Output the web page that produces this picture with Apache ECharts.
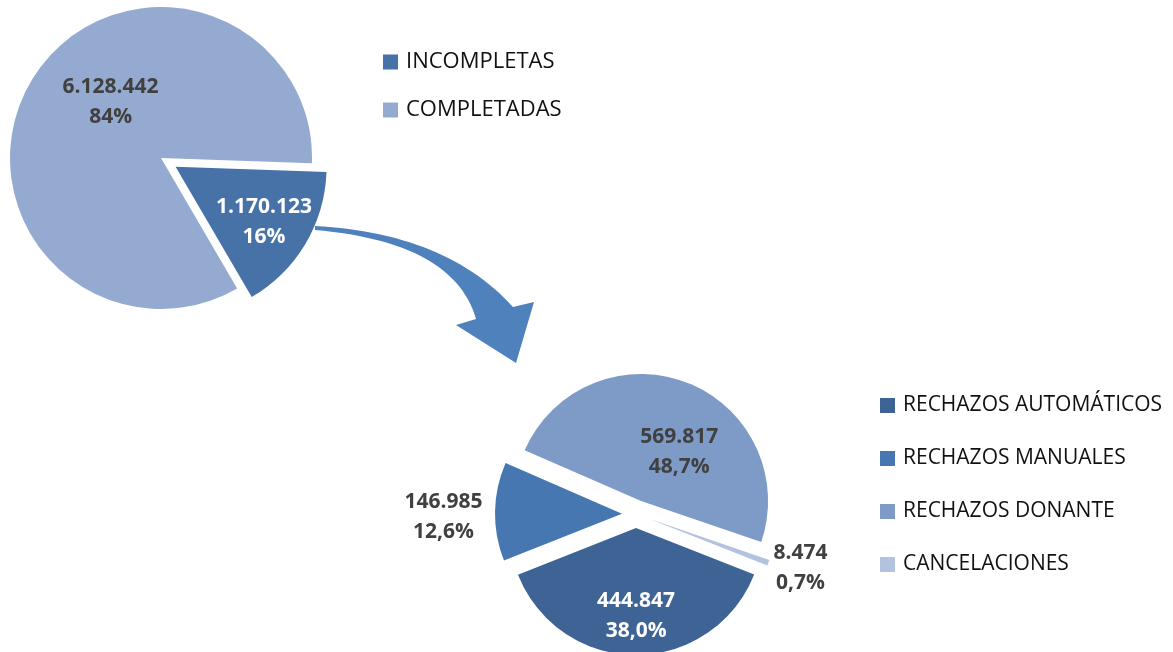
<!DOCTYPE html>
<html>
<head>
<meta charset="utf-8">
<script src="https://cdn.jsdelivr.net/npm/echarts@6/dist/echarts.min.js"></script>
<style>
  html, body { margin: 0; padding: 0; background: #fff; }
  #chart { width: 1173px; height: 652px; }
</style>
</head>
<body>
<div id="chart"></div>
<script>
// datos
const topNames = ['INCOMPLETAS', 'COMPLETADAS'];
const topValues = [1170123, 6128442];
const topColors = ['#4672A8', '#95AAD0'];

const bottomNames = ['RECHAZOS AUTOMÁTICOS', 'RECHAZOS MANUALES', 'RECHAZOS DONANTE', 'CANCELACIONES'];
const bottomValues = [444847, 146985, 569817, 8474];
const bottomColors = ['#3D6495', '#4677B1', '#7E9BC8', '#B3C2DF'];

// ajustes de etiquetas (desplazamiento desde la posicion "inside")
const topLabelShift = [[21, 15], [17, -16]];
const topLabelColor = ['#fff', '#404040'];
const bottomLabelShift = [[0, 22], [-112, 4], [14, 13], [89, 26]];
const bottomLabelColor = ['#fff', '#404040', '#404040', '#404040'];

function miles(v) {
    return String(v).replace(/\B(?=(\d{3})+(?!\d))/g, '.');
}

// curva cuadratica -> puntos
function quad(p0, c, p2, n) {
    let pts = [];
    for (let i = 0; i <= n; i++) {
        let t = i / n, a = (1 - t) * (1 - t), b = 2 * (1 - t) * t, d = t * t;
        pts.push([a * p0[0] + b * c[0] + d * p2[0], a * p0[1] + b * c[1] + d * p2[1]]);
    }
    return pts;
}

// flecha curva entre las dos tartas
let arrowPts = quad([315, 226], [446, 233], [513, 307], 30)
    .concat([[534, 302], [516, 363], [456, 325]])
    .concat(quad([476, 319], [454, 242], [315, 230], 30));

let labelFont = {
    fontFamily: 'Open Sans',
    fontSize: 21,
    fontWeight: 'bold',
    lineHeight: 30
};

let myChart = echarts.init(document.getElementById('chart'), null, { renderer: 'canvas' });

let option = {
    animation: false,
    legend: [{
        orient: 'vertical',
        left: 383,
        top: 51,
        padding: 0,
        itemWidth: 15,
        itemHeight: 15,
        itemGap: 26,
        icon: 'rect',
        selectedMode: false,
        textStyle: { fontFamily: 'Open Sans', fontSize: 22, color: '#111', padding: [0, 0, 0, 3] },
        data: topNames
    }, {
        orient: 'vertical',
        left: 880,
        top: 395,
        padding: 0,
        itemWidth: 15,
        itemHeight: 15,
        itemGap: 32,
        icon: 'rect',
        selectedMode: false,
        textStyle: { fontFamily: 'Open Sans', fontSize: 21, color: '#111', padding: [0, 0, 0, 3] },
        data: bottomNames
    }],
    graphic: [{
        type: 'polygon',
        z: 1,
        shape: { points: arrowPts },
        style: { fill: '#4F81BD' }
    }],
    series: [{
        name: 'total',
        type: 'pie',
        center: [161, 158],
        radius: 151,
        startAngle: -2,
        clockwise: true,
        selectedMode: 'multiple',
        selectedOffset: 17,
        avoidLabelOverlap: false,
        emphasis: { disabled: true },
        label: Object.assign({
            position: 'inside',
            formatter: function (p) {
                return miles(p.value) + '\n' + Math.round(p.percent) + '%';
            }
        }, labelFont),
        labelLine: { show: false },
        labelLayout: function (p) {
            let s = topLabelShift[p.dataIndex];
            return { dx: s[0], dy: s[1] };
        },
        data: topNames.map(function (n, i) {
            return {
                name: n,
                value: topValues[i],
                selected: i === 0,
                itemStyle: { color: topColors[i] },
                label: { color: topLabelColor[i] }
            };
        })
    }, {
        name: 'incompletas',
        type: 'pie',
        center: [636, 514],
        radius: 127,
        startAngle: -21.5,
        clockwise: true,
        selectedMode: 'multiple',
        selectedOffset: 14,
        avoidLabelOverlap: false,
        emphasis: { disabled: true },
        label: Object.assign({
            position: 'inside',
            formatter: function (p) {
                return miles(p.value) + '\n' + p.percent.toFixed(1).replace('.', ',') + '%';
            }
        }, labelFont),
        labelLine: { show: false },
        labelLayout: function (p) {
            let s = bottomLabelShift[p.dataIndex];
            return { dx: s[0], dy: s[1] };
        },
        data: bottomNames.map(function (n, i) {
            return {
                name: n,
                value: bottomValues[i],
                selected: true,
                itemStyle: { color: bottomColors[i] },
                label: { color: bottomLabelColor[i] }
            };
        })
    }]
};

myChart.setOption(option);
</script>
</body>
</html>
